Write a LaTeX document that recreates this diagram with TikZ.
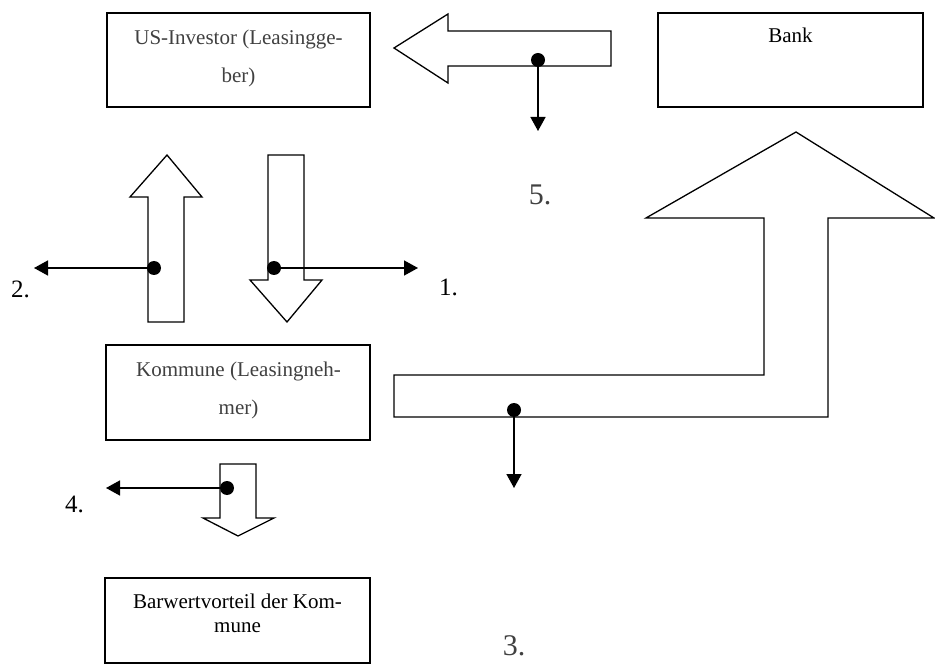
\documentclass[tikz,border=0pt]{standalone}
\usepackage{fontspec}
\setmainfont{Liberation Serif}
\usetikzlibrary{arrows.meta}
\definecolor{txtgray}{HTML}{404040}
\begin{document}
\begin{tikzpicture}[x=1pt,y=-1pt,
  boxnode/.style={draw,line width=1.8pt,inner sep=0pt},
  boxtext/.style={anchor=base,inner sep=0pt,font=\fontsize{21}{25}\selectfont},
  numlabel/.style={anchor=base west,inner sep=0pt,font=\fontsize{25}{30}\selectfont},
  biglabel/.style={anchor=base,inner sep=0pt,font=\fontsize{30}{36}\selectfont,text=txtgray},
  fatarrow/.style={draw,line width=1.3pt,line join=miter,fill=white},
  dotnode/.style={circle,fill,inner sep=0pt,minimum size=14pt},
  flowline/.style={line width=1.5pt,-{Triangle[length=14pt,width=15pt]}}]
\useasboundingbox (0,0) rectangle (935,668);

% boxes
\node[boxnode,minimum width=263pt,minimum height=94pt] (inv) at (238.5,60) {};
\node[boxnode,minimum width=265pt,minimum height=94pt] (bank) at (790.5,60) {};
\node[boxnode,minimum width=264pt,minimum height=95pt] (komm) at (238,392.5) {};
\node[boxnode,minimum width=265pt,minimum height=85pt] (barw) at (237.5,620.5) {};

% box texts
\node[boxtext,text=txtgray] (invA) at (238.5,45) {US-Investor (Leasingge-};
\node[boxtext,text=txtgray] (invB) at (238.5,83) {ber)};
\node[boxtext] (bankA) at (790.5,43) {Bank};
\node[boxtext,text=txtgray] (kommA) at (238.5,377) {Kommune (Leasingneh-};
\node[boxtext,text=txtgray] (kommB) at (238.5,414) {mer)};
\node[boxtext] (barwA) at (237.5,608) {Barwertvorteil der Kom-};
\node[boxtext] (barwB) at (237.5,632) {mune};

% fat arrows
\draw[fatarrow] (611,31) -- (448,31) -- (448,14) -- (394,48) -- (448,83) -- (448,66) -- (611,66) -- cycle;
\draw[fatarrow] (148,322) -- (148,197) -- (130,197) -- (167,155) -- (202,197) -- (184,197) -- (184,322) -- cycle;
\draw[fatarrow] (268,155) -- (304,155) -- (304,280) -- (322,280) -- (287,322) -- (250,280) -- (268,280) -- cycle;
\draw[fatarrow] (394,375) -- (764,375) -- (764,218) -- (646,218) -- (796,132) -- (934,218) -- (828,218) -- (828,417) -- (394,417) -- cycle;
\draw[fatarrow] (220,464) -- (256,464) -- (256,518) -- (274,518) -- (238,536) -- (203,518) -- (220,518) -- cycle;

% dots and connectors
\node[dotnode] (d5) at (538,60) {};
\coordinate (e5) at (538,131);
\draw[flowline] (d5.center) -- (e5);

\node[dotnode] (d2) at (154,268) {};
\coordinate (e2) at (34,268);
\draw[flowline] (d2.center) -- (e2);

\node[dotnode] (d1) at (274,268) {};
\coordinate (e1) at (418,268);
\draw[flowline] (d1.center) -- (e1);

\node[dotnode] (d3) at (514,410) {};
\coordinate (e3) at (514,488);
\draw[flowline] (d3.center) -- (e3);

\node[dotnode] (d4) at (227,488) {};
\coordinate (e4) at (106,488);
\draw[flowline] (d4.center) -- (e4);

% labels
\node[numlabel] (l1) at (439,296) {1.};
\node[numlabel] (l2) at (11,298) {2.};
\node[numlabel] (l4) at (65,512) {4.};
\node[biglabel] (l5) at (540,205) {5.};
\node[biglabel] (l3) at (514,655) {3.};
\end{tikzpicture}
\end{document}
